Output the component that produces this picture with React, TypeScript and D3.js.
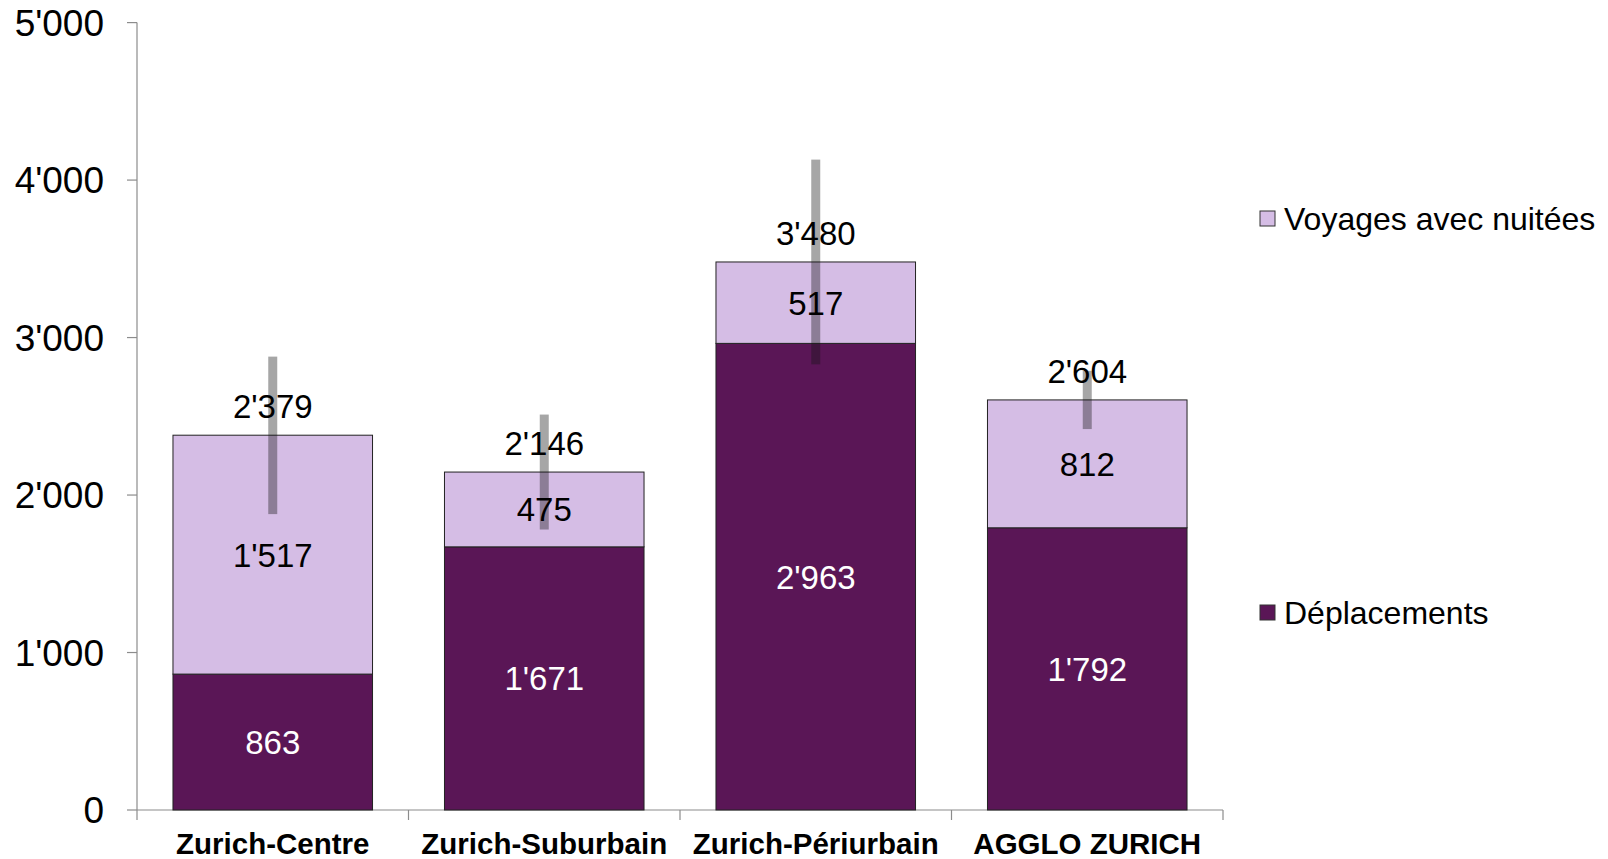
import React from "react";
import * as d3 from "d3";

const categories = ["Zurich-Centre", "Zurich-Suburbain", "Zurich-Périurbain", "AGGLO ZURICH"];
const deplacements = [863, 1671, 2963, 1792];
const voyages = [1517, 475, 517, 812];
const totals = [2379, 2146, 3480, 2604];
const errors = [500, 365, 650, 185];
const yTicks = [0, 1000, 2000, 3000, 4000, 5000];

const W = 1608, H = 859;
const FONT = "'Liberation Sans', Arial, sans-serif";
const C_DEP = "#5a1656";
const C_VOY = "#d5bde5";

const fmt = (v: number) => d3.format(",")(v).replace(/,/g, "'");

export default function App() {
  const y = d3.scaleLinear().domain([0, 5000]).range([810, 22.6]);
  const x = d3.scaleBand<string>().domain(categories).range([137, 1223]).paddingInner(0.265).paddingOuter(0.1325);
  const step = x.step();
  const x0 = 137;
  const bw = x.bandwidth();

  return (
    <svg width={W} height={H} style={{ position: "absolute", left: 0, top: 0, background: "#fff" }} fontFamily={FONT}>
      {/* y axis */}
      <line x1={x0} x2={x0} y1={y(5000)} y2={y(0)} stroke="#8c8c8c" strokeWidth={1.2} />
      {yTicks.map((t) => (
        <g key={t}>
          <line x1={x0 - 10} x2={x0} y1={y(t)} y2={y(t)} stroke="#8c8c8c" strokeWidth={1.2} />
          <text x={104} y={y(t)} dy="0.36em" textAnchor="end" fontSize={37} fill="#000">{fmt(t)}</text>
        </g>
      ))}
      {/* x axis */}
      <line x1={x0} x2={1223} y1={y(0)} y2={y(0)} stroke="#8c8c8c" strokeWidth={1.2} />
      {d3.range(categories.length + 1).map((i) => (
        <line key={i} x1={x0 + i * step} x2={x0 + i * step} y1={y(0)} y2={y(0) + 10} stroke="#8c8c8c" strokeWidth={1.2} />
      ))}
      {categories.map((c) => (
        <text key={c} x={(x(c) as number) + bw / 2} y={854} textAnchor="middle" fontSize={29.5} fontWeight="bold" fill="#000">{c}</text>
      ))}

      {/* bars */}
      {categories.map((c, i) => {
        const bx = x(c) as number;
        const d = deplacements[i];
        const v = voyages[i];
        return (
          <g key={c}>
            <rect x={bx} y={y(d)} width={bw} height={y(0) - y(d)} fill={C_DEP} stroke="#222" strokeWidth={1} />
            <rect x={bx} y={y(d + v)} width={bw} height={y(d) - y(d + v)} fill={C_VOY} stroke="#222" strokeWidth={1} />
          </g>
        );
      })}

      {/* error bars */}
      {categories.map((c, i) => {
        const cx = (x(c) as number) + bw / 2;
        const t = totals[i];
        const e = errors[i];
        return <rect key={c} x={cx - 4.5} y={y(t + e)} width={9} height={y(t - e) - y(t + e)} fill="#151515" fillOpacity={0.38} />;
      })}

      {/* labels */}
      {categories.map((c, i) => {
        const cx = (x(c) as number) + bw / 2;
        const d = deplacements[i];
        const v = voyages[i];
        return (
          <g key={c} fontSize={33} textAnchor="middle">
            <text x={cx} y={y(d / 2)} dy="0.36em" fill="#fff">{fmt(d)}</text>
            <text x={cx} y={y(d + v / 2)} dy="0.36em" fill="#000">{fmt(v)}</text>
            <text x={cx} y={y(totals[i]) - 29} dy="0.36em" fill="#000">{fmt(totals[i])}</text>
          </g>
        );
      })}

      {/* legend */}
      <rect x={1260} y={211} width={15} height={15} fill={C_VOY} stroke="#333" strokeWidth={1} />
      <text x={1284} y={218} dy="0.36em" fontSize={32} fill="#000">Voyages avec nuitées</text>
      <rect x={1260} y={605} width={15} height={15} fill={C_DEP} stroke="#333" strokeWidth={1} />
      <text x={1284} y={612} dy="0.36em" fontSize={32} fill="#000">Déplacements</text>
    </svg>
  );
}
